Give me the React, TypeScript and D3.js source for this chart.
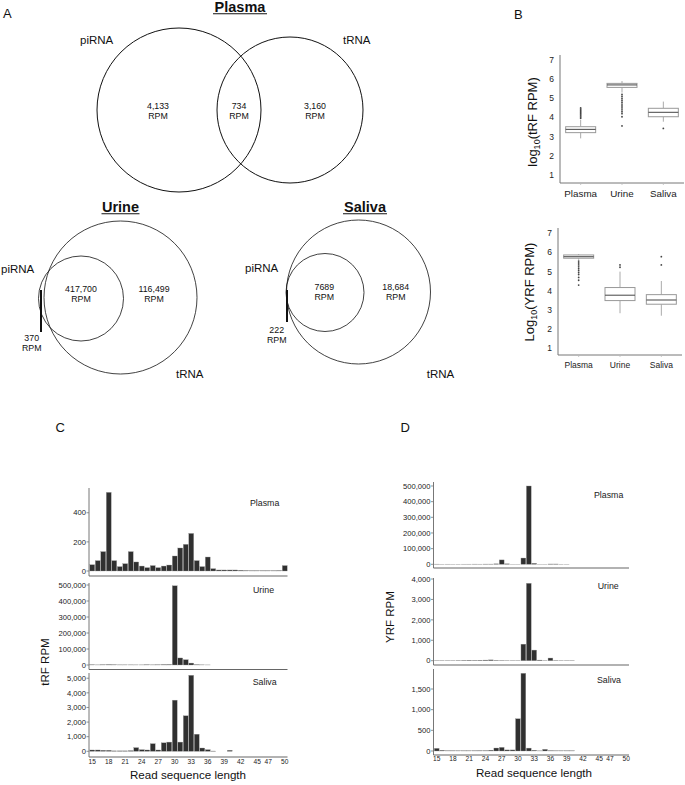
import React from "react";
import * as d3 from "d3";

const FONT = "'Liberation Sans', Arial, Helvetica, sans-serif";

// ---------- Panel A: Venn values ----------
const vennSets = ["piRNA", "tRNA"];
const plasmaRPM = ["4,133", "734", "3,160"]; // piRNA only, overlap, tRNA only
const urineRPM = ["370", "417,700", "116,499"]; // piRNA only, overlap, tRNA only
const salivaRPM = ["222", "7689", "18,684"];

// ---------- Panel B: box plots ----------
const fluids = ["Plasma", "Urine", "Saliva"];
const bTicks = [1, 2, 3, 4, 5, 6, 7];
// tRF
const tRFLow = [2.91, 5.3, 3.78];
const tRFQ1 = [3.21, 5.57, 4.04];
const tRFMed = [3.38, 5.7, 4.27];
const tRFQ3 = [3.52, 5.78, 4.48];
const tRFHigh = [3.87, 5.9, 4.83];
const tRFOut = [
  [3.96, 4.02, 4.08, 4.14, 4.2, 4.26, 4.32, 4.38, 4.44, 4.5],
  [5.2, 5.1, 5.0, 4.9, 4.8, 4.7, 4.6, 4.5, 4.4, 4.3, 4.2, 4.04, 3.56],
  [3.43],
];
// YRF
const yRFLow = [5.62, 2.83, 2.7];
const yRFQ1 = [5.7, 3.49, 3.3];
const yRFMed = [5.78, 3.77, 3.52];
const yRFQ3 = [5.87, 4.17, 3.8];
const yRFHigh = [5.92, 5.0, 4.51];
const yRFOut = [
  [5.55, 5.45, 5.35, 5.25, 5.15, 5.05, 4.95, 4.85, 4.7, 4.55, 4.3],
  [5.23, 5.35],
  [5.35, 5.78],
];

// ---------- Panels C & D: read length histograms ----------
const lengths = [15, 16, 17, 18, 19, 20, 21, 22, 23, 24, 25, 26, 27, 28, 29, 30, 31, 32, 33, 34, 35, 36, 37, 38, 39, 40, 41, 42, 43, 44, 45, 46, 47, 48, 49, 50];
const lengthTicks = [15, 18, 21, 24, 27, 30, 33, 36, 39, 42, 45, 47, 50];

const tRFPlasma = [43, 71, 133, 540, 71, 30, 50, 133, 62, 34, 23, 37, 23, 34, 41, 103, 158, 183, 258, 71, 30, 96, 16, 7, 7, 7, 7, 5, 3, 2, 2, 2, 2, 2, 3, 37];
const tRFUrine = [1500, 800, 1500, 2500, 1500, 1000, 1000, 1000, 800, 800, 1500, 1000, 1200, 2500, 3000, 495000, 44000, 33000, 12000, 2000, 1000, 500, 0, 0, 0, 0, 0, 0, 0, 0, 0, 0, 0, 0, 0, 0];
const tRFSaliva = [90, 90, 70, 70, 30, 30, 30, 45, 250, 110, 90, 520, 90, 580, 630, 3500, 630, 2430, 5200, 1170, 225, 110, 20, 0, 0, 70, 0, 0, 0, 0, 0, 0, 0, 0, 0, 0];

const yRFPlasma = [1200, 800, 900, 700, 800, 900, 1000, 1200, 1000, 1500, 1500, 3000, 28000, 3000, 500, 500, 40000, 500000, 6000, 500, 600, 2000, 2000, 800, 600, 0, 0, 0, 0, 0, 0, 0, 0, 0, 0, 0];
const yRFUrine = [10, 10, 10, 10, 15, 20, 25, 20, 25, 30, 40, 20, 15, 10, 10, 10, 810, 3790, 520, 30, 10, 130, 15, 10, 10, 10, 0, 0, 0, 0, 0, 0, 0, 0, 0, 0];
const yRFSaliva = [64, 18, 6, 6, 5, 5, 5, 6, 8, 8, 20, 72, 88, 26, 26, 780, 1880, 70, 18, 4, 40, 8, 5, 5, 5, 5, 0, 0, 0, 0, 0, 0, 0, 0, 0, 0];

const ticksPlasmaC = [0, 200, 400];
const ticksUrineC = [0, 100000, 200000, 300000, 400000, 500000];
const ticksSalivaC = [0, 1000, 2000, 3000, 4000, 5000];
const ticksPlasmaD = [0, 100000, 200000, 300000, 400000, 500000];
const ticksUrineD = [0, 1000, 2000, 3000, 4000];
const ticksSalivaD = [0, 500, 1000, 1500];

const fmt = d3.format(",");

type HistProps = {
  values: number[];
  ticks: number[];
  x0: number;
  x1: number;
  topY: number;
  zeroY: number;
  axisY: number;
  yMax: number;
  name: string;
  nameX: number;
  nameY: number;
  showX?: boolean;
  tickY?: number;
};

function Hist(p: HistProps) {
  const x = d3.scaleBand<number>().domain(lengths).range([p.x0, p.x1]).padding(0);
  const y = d3.scaleLinear().domain([0, p.yMax]).range([p.zeroY, p.topY]);
  const bw = x.bandwidth();
  const ax = p.x0 - 0.5;
  return (
    <g>
      {p.values.map((v, i) =>
        v > 0 ? (
          <rect
            key={i}
            x={(x(lengths[i]) as number) + 0.3}
            width={bw - 0.6}
            y={y(v)}
            height={p.zeroY - y(v)}
            fill="#303030"
            stroke="#9a9a9a"
            strokeWidth={0.35}
          />
        ) : null
      )}
      <line x1={ax} x2={ax} y1={p.topY} y2={p.axisY} stroke="#777" strokeWidth={1} />
      <line x1={ax} x2={p.x1} y1={p.axisY} y2={p.axisY} stroke="#666" strokeWidth={1.2} />
      {p.ticks.map((t) => (
        <g key={t}>
          <line x1={ax - 2.5} x2={ax} y1={y(t)} y2={y(t)} stroke="#777" strokeWidth={0.8} />
          <text x={ax - 3} y={y(t)} dy="0.35em" textAnchor="end" fontSize={7.6} fill="#222">
            {fmt(t)}
          </text>
        </g>
      ))}
      <text x={p.nameX} y={p.nameY} fontSize={8.8} fill="#222">
        {p.name}
      </text>
      {p.showX &&
        lengthTicks.map((t) => (
          <text key={t} x={(x(t) as number) + bw / 2} y={p.tickY} textAnchor="middle" fontSize={6.6} fill="#222">
            {t}
          </text>
        ))}
    </g>
  );
}

type BoxProps = {
  axisX: number;
  axisEnd: number;
  topY: number;
  axisY: number;
  y1: number;
  y7: number;
  low: number[];
  q1: number[];
  med: number[];
  q3: number[];
  high: number[];
  out: number[][];
  catY: number;
  catSize: number;
};

function Box(p: BoxProps) {
  const y = d3.scaleLinear().domain([1, 7]).range([p.y1, p.y7]);
  const x = d3.scalePoint<string>().domain(fluids).range([p.axisX, p.axisEnd]).padding(0.5);
  const bw = 30;
  return (
    <g>
      <line x1={p.axisX} x2={p.axisX} y1={p.topY} y2={p.axisY} stroke="#777" strokeWidth={1} />
      <line x1={p.axisX} x2={p.axisEnd} y1={p.axisY} y2={p.axisY} stroke="#777" strokeWidth={1} />
      {bTicks.map((t) => (
        <text key={t} x={p.axisX - 6} y={y(t)} dy="0.35em" textAnchor="end" fontSize={8.5} fill="#222">
          {t}
        </text>
      ))}
      {fluids.map((f, i) => {
        const cx = x(f) as number;
        return (
          <g key={f}>
            <line x1={cx} x2={cx} y1={p.axisY} y2={p.axisY + 2} stroke="#bbb" strokeWidth={0.8} />
            <line x1={cx} x2={cx} y1={y(p.q3[i])} y2={y(p.high[i])} stroke="#aaa" strokeWidth={1} />
            <line x1={cx} x2={cx} y1={y(p.q1[i])} y2={y(p.low[i])} stroke="#aaa" strokeWidth={1} />
            <rect
              x={cx - bw / 2}
              width={bw}
              y={y(p.q3[i])}
              height={y(p.q1[i]) - y(p.q3[i])}
              fill="#fff"
              stroke="#999"
              strokeWidth={1}
            />
            <line x1={cx - bw / 2} x2={cx + bw / 2} y1={y(p.med[i])} y2={y(p.med[i])} stroke="#555" strokeWidth={1.1} />
            {p.out[i].map((o, j) => (
              <circle key={j} cx={cx} cy={y(o)} r={0.9} fill="#444" />
            ))}
            <text x={cx} y={p.catY} textAnchor="middle" fontSize={p.catSize} fill="#222">
              {f}
            </text>
          </g>
        );
      })}
    </g>
  );
}

function Title({ x, y, text, w }: { x: number; y: number; text: string; w: number }) {
  return (
    <g>
      <text x={x} y={y} textAnchor="middle" fontSize={14.5} fontWeight="bold" fill="#111">
        {text}
      </text>
      <line x1={x - w / 2} x2={x + w / 2} y1={y + 2} y2={y + 2} stroke="#111" strokeWidth={1.1} />
    </g>
  );
}

function RPM({ x, y, v }: { x: number; y: number; v: string }) {
  return (
    <g>
      <text x={x} y={y} textAnchor="middle" fontSize={8.8} fill="#111">
        {v}
      </text>
      <text x={x} y={y + 10} textAnchor="middle" fontSize={8.8} fill="#111">
        RPM
      </text>
    </g>
  );
}

export default function App() {
  return (
    <svg
      width={685}
      height={785}
      style={{ position: "absolute", left: 0, top: 0, background: "#fff" }}
      fontFamily={FONT}
    >
      <rect width={685} height={785} fill="#fff" />
      {/* Panel labels */}
      <text x={3} y={17.5} fontSize={13} fill="#111">A</text>
      <text x={514} y={18.5} fontSize={13} fill="#111">B</text>
      <text x={55.5} y={431.5} fontSize={13} fill="#111">C</text>
      <text x={400.5} y={431.5} fontSize={13} fill="#111">D</text>

      {/* Panel A: Plasma */}
      <Title x={240} y={11.7} text="Plasma" w={54} />
      <circle cx={179} cy={110} r={82} fill="none" stroke="#111" strokeWidth={1} />
      <circle cx={290} cy={110} r={73} fill="none" stroke="#111" strokeWidth={1} />
      <text x={80} y={44} fontSize={11.5} fill="#111">{vennSets[0]}</text>
      <text x={343} y={44} fontSize={11.5} fill="#111">{vennSets[1]}</text>
      <RPM x={158} y={109.3} v={plasmaRPM[0]} />
      <RPM x={239} y={109.3} v={plasmaRPM[1]} />
      <RPM x={315} y={109.3} v={plasmaRPM[2]} />

      {/* Urine */}
      <Title x={120.5} y={211.7} text="Urine" w={38} />
      <circle cx={120.5} cy={297.5} r={76.5} fill="none" stroke="#111" strokeWidth={0.8} />
      <circle cx={81} cy={298.5} r={42.5} fill="none" stroke="#111" strokeWidth={0.8} />
      <line x1={41} x2={41} y1={290} y2={332} stroke="#111" strokeWidth={2} />
      <text x={1} y={273.3} fontSize={11.5} fill="#111">{vennSets[0]}</text>
      <text x={176} y={378} fontSize={11.5} fill="#111">{vennSets[1]}</text>
      <RPM x={31.7} y={340.7} v={urineRPM[0]} />
      <RPM x={81} y={291.7} v={urineRPM[1]} />
      <RPM x={154} y={291.7} v={urineRPM[2]} />

      {/* Saliva */}
      <Title x={365} y={211.7} text="Saliva" w={44} />
      <circle cx={358.5} cy={292} r={72} fill="none" stroke="#111" strokeWidth={0.8} />
      <circle cx={325} cy={292.5} r={39} fill="none" stroke="#111" strokeWidth={0.8} />
      <line x1={287} x2={287} y1={290} y2={322} stroke="#111" strokeWidth={2} />
      <text x={245} y={271.7} fontSize={11.5} fill="#111">{vennSets[0]}</text>
      <text x={426.7} y={378} fontSize={11.5} fill="#111">{vennSets[1]}</text>
      <RPM x={276.7} y={333.3} v={salivaRPM[0]} />
      <RPM x={324.3} y={290} v={salivaRPM[1]} />
      <RPM x={395.7} y={290} v={salivaRPM[2]} />

      {/* Panel B */}
      <Box
        axisX={560}
        axisEnd={684}
        topY={55}
        axisY={183}
        y1={175}
        y7={60}
        low={tRFLow}
        q1={tRFQ1}
        med={tRFMed}
        q3={tRFQ3}
        high={tRFHigh}
        out={tRFOut}
        catY={196.5}
        catSize={9.8}
      />
      <text transform="translate(537,122) rotate(-90)" textAnchor="middle" fontSize={13} fill="#111">
        log<tspan fontSize={9} dy={3}>10</tspan><tspan dy={-3}>(tRF RPM)</tspan>
      </text>
      <Box
        axisX={558}
        axisEnd={682}
        topY={228}
        axisY={355}
        y1={348.3}
        y7={233.3}
        low={yRFLow}
        q1={yRFQ1}
        med={yRFMed}
        q3={yRFQ3}
        high={yRFHigh}
        out={yRFOut}
        catY={368}
        catSize={8.5}
      />
      <text transform="translate(534,292) rotate(-90)" textAnchor="middle" fontSize={13} fill="#111">
        Log<tspan fontSize={9} dy={3}>10</tspan><tspan dy={-3}>(YRF RPM)</tspan>
      </text>

      {/* Panel C */}
      <Hist values={tRFPlasma} ticks={ticksPlasmaC} x0={89.5} x1={287.5} topY={488} zeroY={571} axisY={576} yMax={570} name="Plasma" nameX={250} nameY={506} />
      <Hist values={tRFUrine} ticks={ticksUrineC} x0={89.5} x1={287.5} topY={583} zeroY={665} axisY={669.5} yMax={512500} name="Urine" nameX={253} nameY={593} />
      <Hist values={tRFSaliva} ticks={ticksSalivaC} x0={89.5} x1={287.5} topY={673} zeroY={751.3} axisY={757} yMax={5358} name="Saliva" nameX={252.7} nameY={685} showX tickY={764} />
      <text transform="translate(49,662) rotate(-90)" textAnchor="middle" fontSize={11.5} fill="#111">tRF RPM</text>
      <text x={188} y={779} textAnchor="middle" fontSize={11.6} fill="#111">Read sequence length</text>

      {/* Panel D */}
      <Hist values={yRFPlasma} ticks={ticksPlasmaD} x0={434} x1={629} topY={482} zeroY={564.3} axisY={568} yMax={525500} name="Plasma" nameX={594} nameY={498.3} />
      <Hist values={yRFUrine} ticks={ticksUrineD} x0={434} x1={629} topY={578} zeroY={660.7} axisY={665} yMax={4050} name="Urine" nameX={597.7} nameY={589.3} />
      <Hist values={yRFSaliva} ticks={ticksSalivaD} x0={434} x1={629} topY={669} zeroY={751} axisY={755} yMax={1984} name="Saliva" nameX={597} nameY={683.3} showX tickY={761} />
      <text transform="translate(394,617) rotate(-90)" textAnchor="middle" fontSize={11.5} fill="#111">YRF RPM</text>
      <text x={534} y={777} textAnchor="middle" fontSize={11.6} fill="#111">Read sequence length</text>
    </svg>
  );
}
